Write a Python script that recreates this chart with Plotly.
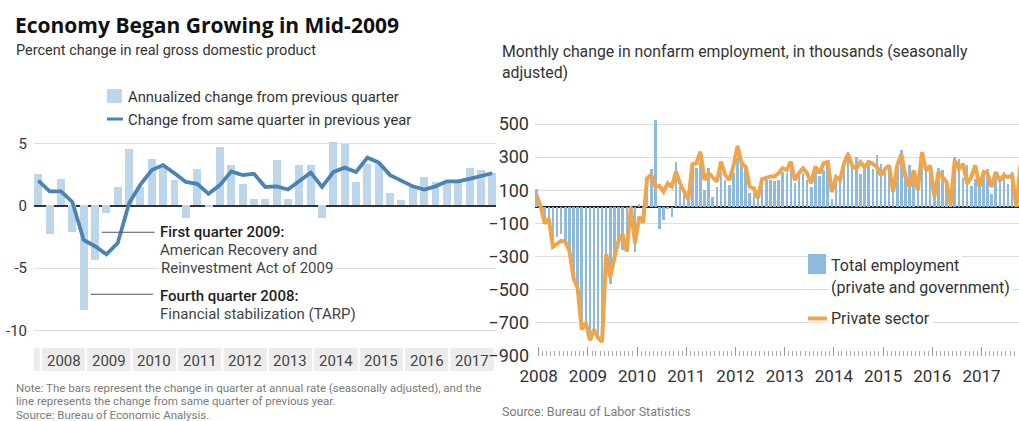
import pandas as pd
import plotly.graph_objects as go

W, H = 1019, 421


def px(x):
    return x / W


def py(y):
    return 1 - y / H


# ---------------- Real GDP, percent change (left panel) ----------------
gdp_years = ["2008", "2009", "2010", "2011", "2012", "2013", "2014", "2015", "2016", "2017"]
gdp_quarters = ["2007 Q4"] + [f"{y} Q{q}" for y in gdp_years for q in (1, 2, 3, 4)]

# annualized change from previous quarter
gdp_qoq = [
    2.5,
    -2.3, 2.1, -2.1, -8.4,
    -4.4, -0.6, 1.5, 4.5,
    1.5, 3.7, 3.0, 2.0,
    -1.0, 2.9, -0.1, 4.7,
    3.2, 1.7, 0.5, 0.5,
    3.6, 0.5, 3.2, 3.2,
    -1.0, 5.1, 4.9, 1.9,
    3.3, 3.3, 1.0, 0.4,
    1.5, 2.3, 1.9, 1.8,
    1.9, 3.0, 2.8, 2.6,
]
# change from same quarter in previous year
gdp_yoy = [
    2.0,
    1.15, 1.15, 0.3, -2.75,
    -3.25, -3.9, -3.0, 0.2,
    1.7, 2.85, 3.25, 2.6,
    1.9, 1.75, 0.95, 1.65,
    2.75, 2.45, 2.55, 1.5,
    1.55, 1.3, 1.95, 2.65,
    1.5, 2.7, 3.05, 2.7,
    3.85, 3.45, 2.45, 2.0,
    1.55, 1.3, 1.55, 1.95,
    1.95, 2.15, 2.35, 2.6,
]
gdp_yticks = [5, 0, -5, -10]
gdp_yticktext = ["5", "0", "-5", "-10"]

# ---------------- Nonfarm payrolls, monthly change (right panel) ----------------
emp_years = gdp_years
emp_months = pd.date_range("2007-12-01", "2017-10-01", freq="MS")

emp_total = [
    105,
    15, -85, -80, -210, -185, -165, -210, -265, -450, -480, -745, -705,      # 2008
    -790, -745, -800, -700, -330, -465, -325, -215, -260, -200, -10, -275,   # 2009
    15, -55, 160, 230, 525, -135, -80, -15, -60, 269, 122, 82,               # 2010
    42, 233, 233, 273, 102, 237, 62, 122, 213, 162, 132, 203,                # 2011
    293, 263, 243, 82, 82, 72, 162, 162, 162, 158, 162, 213,                 # 2012
    203, 263, 142, 193, 203, 162, 122, 233, 183, 223, 260, 50,               # 2013
    190, 150, 270, 330, 240, 300, 200, 230, 280, 230, 310, 260,              # 2014
    230, 240, 90, 260, 340, 210, 250, 160, 100, 320, 250, 240,               # 2015
    125, 235, 225, 155, 45, 300, 290, 175, 250, 125, 165, 155,               # 2016
    215, 230, 80, 205, 145, 210, 140, 210, 15, 270,                          # 2017
]
emp_private = [
    70,
    0, -100, -70, -240, -220, -205, -210, -265, -430, -490, -740, -700,      # 2008
    -805, -740, -790, -815, -285, -425, -305, -205, -165, -270, 0, -220,     # 2009
    -60, -95, 172, 193, 122, 126, 92, 142, 122, 213, 142, 92,                # 2010
    42, 257, 263, 333, 162, 203, 173, 152, 273, 193, 162, 243,               # 2011
    368, 263, 243, 122, 112, 52, 166, 173, 183, 183, 203, 233,               # 2012
    223, 273, 162, 203, 233, 203, 142, 243, 203, 263, 270, 90,               # 2013
    180, 160, 260, 320, 250, 230, 270, 240, 270, 260, 240, 190,              # 2014
    230, 250, 90, 250, 320, 180, 120, 220, 100, 330, 220, 250,               # 2015
    60, 210, 180, 150, 10, 280, 230, 260, 140, 180, 250, 120,                # 2016
    210, 200, 120, 210, 160, 190, 180, 190, 0, 250,                          # 2017
]
emp_yticks = [500, 300, 100, -100, -300, -500, -700, -900]

# ---------------- colours & fonts ----------------
BAR_GDP = "#bdd6ea"
LINE_GDP = "#4b84b4"
BAR_EMP = "#8dbadd"
LINE_EMP = "#efa54c"
GRID = "#dddddd"
FONT = "Roboto"
TITLE_FONT = "Open Sans"
TXT = "#333333"
NOTE = "#7a7a7a"

q_idx = list(range(len(gdp_quarters)))

fig = go.Figure()
fig.add_trace(go.Bar(x=q_idx, y=gdp_qoq, width=0.7, marker=dict(color=BAR_GDP, line_width=0),
                     hovertext=gdp_quarters, xaxis="x", yaxis="y",
                     name="Annualized change from previous quarter"))
fig.add_trace(go.Scatter(x=q_idx, y=gdp_yoy, mode="lines",
                         line=dict(color=LINE_GDP, width=3.8),
                         hovertext=gdp_quarters, xaxis="x", yaxis="y",
                         name="Change from same quarter in previous year"))
fig.add_trace(go.Bar(x=emp_months, y=emp_total, xperiod="M1", xperiodalignment="middle",
                     width=19 * 86400000, marker=dict(color=BAR_EMP, line_width=0),
                     xaxis="x2", yaxis="y2",
                     name="Total employment (private and government)"))
fig.add_trace(go.Scatter(x=emp_months, y=emp_private, xperiod="M1", xperiodalignment="middle",
                         mode="lines", line=dict(color=LINE_EMP, width=4),
                         xaxis="x2", yaxis="y2", name="Private sector"))

shapes = []
annotations = []


def text(x, y, s, size=15, color=TXT, weight=None, bg=None, family=FONT):
    f = dict(family=family, size=size, color=color)
    if weight:
        f["weight"] = weight
    a = dict(xref="paper", yref="paper", x=px(x), y=py(y), text=s, showarrow=False,
             xanchor="left", yanchor="middle", font=f, align="left")
    if bg:
        a.update(bgcolor=bg, borderpad=2)
    annotations.append(a)


# headings
text(13, 25, "Economy Began Growing in Mid-2009", size=21, color="#111111", weight=700,
     family=TITLE_FONT)
text(14, 51, "Percent change in real gross domestic product", size=14.5)
text(500, 52, "Monthly change in nonfarm employment, in thousands (seasonally", size=15.8)
text(500, 72, "adjusted)", size=15.8)

# left legend
shapes.append(dict(type="rect", xref="paper", yref="paper", x0=px(107), x1=px(122),
                   y0=py(103), y1=py(89), fillcolor=BAR_GDP, line_width=0))
text(126, 96.5, "Annualized change from previous quarter", size=14.8)
shapes.append(dict(type="line", xref="paper", yref="paper", x0=px(107), x1=px(123),
                   y0=py(119), y1=py(119), line=dict(color=LINE_GDP, width=3)))
text(126, 120, "Change from same quarter in previous year", size=14.8)

# year band under the GDP panel
band_shift = -0.28
cell_gap = 0.09
shapes.append(dict(type="rect", xref="x", yref="paper", layer="below",
                   x0=-0.5 + band_shift - 0.2, x1=0.5 + band_shift - cell_gap,
                   y0=py(371), y1=py(348), fillcolor="#ececec", line_width=0))
for k, yr in enumerate(gdp_years):
    x0 = 4 * k + 0.5 + band_shift
    shapes.append(dict(type="rect", xref="x", yref="paper", layer="below",
                       x0=x0 + cell_gap, x1=x0 + 4 - cell_gap,
                       y0=py(371), y1=py(348), fillcolor="#ececec", line_width=0))
    annotations.append(dict(xref="x", yref="paper", x=x0 + 2, y=py(361), text=yr,
                            showarrow=False, xanchor="center", yanchor="middle",
                            font=dict(family=FONT, size=15, color="#444444")))

# callouts on the GDP panel
shapes.append(dict(type="line", xref="x", yref="y", x0=5.6, x1=10.25, y0=-2.13, y1=-2.13,
                   line=dict(color="#555555", width=1)))
shapes.append(dict(type="line", xref="x", yref="y", x0=4.6, x1=10.1, y0=-7.1, y1=-7.1,
                   line=dict(color="#555555", width=1)))
text(158, 232, "First quarter 2009:", size=15, color="#1e1e1e", weight=500)
text(158, 250, "American Recovery and", size=15, color="#444444")
text(158, 268, "Reinvestment Act of 2009", size=15, color="#444444", bg="white")
text(158, 296, "Fourth quarter 2008:", size=15, color="#1e1e1e", weight=500)
text(158, 314, "Financial stabilization (TARP)", size=15, color="#444444")

# right legend
shapes.append(dict(type="rect", xref="paper", yref="paper", x0=px(808), x1=px(826),
                   y0=py(274), y1=py(254), fillcolor=BAR_EMP, line_width=0))
text(828, 265, "Total employment", size=16, bg="white")
text(828, 287, "(private and government)", size=16, bg="white")
shapes.append(dict(type="line", xref="paper", yref="paper", x0=px(808), x1=px(827),
                   y0=py(318.5), y1=py(318.5), line=dict(color=LINE_EMP, width=4)))
text(828, 318, "Private sector", size=16, bg="white")

# notes and sources
text(14, 388, "Note: The bars represent the change in quarter at annual rate (seasonally adjusted), and the",
     size=11.5, color=NOTE)
text(14, 401, "line represents the change from same quarter of previous year.", size=11.5, color=NOTE)
text(14, 415, "Source: Bureau of Economic Analysis.", size=11.5, color=NOTE)
text(500, 411, "Source: Bureau of Labor Statistics", size=12.5, color=NOTE)

year_starts = [f"{y}-01-01" for y in emp_years]

fig.update_layout(
    template="none",
    width=W, height=H,
    margin=dict(l=0, r=0, t=0, b=0, autoexpand=False),
    paper_bgcolor="white", plot_bgcolor="white",
    showlegend=False, bargap=0,
    font=dict(family=FONT, color=TXT),
    shapes=shapes, annotations=annotations,
    xaxis=dict(domain=[px(34), px(496)], range=[-0.38, 40.33], showgrid=False,
               zeroline=False, showticklabels=False, ticks="", showline=False,
               automargin=False),
    yaxis=dict(domain=[py(334.2), py(138.3)], range=[-10.3, 5.4],
               tickmode="array", tickvals=gdp_yticks, ticktext=gdp_yticktext,
               showgrid=True, gridcolor=GRID, gridwidth=1, zeroline=True,
               zerolinecolor="#333333", zerolinewidth=1.5, ticks="", showline=False,
               ticklabelstandoff=6, automargin=False,
               tickfont=dict(family=FONT, size=15, color=TXT)),
    xaxis2=dict(type="date", anchor="y2", domain=[px(535), 1.0],
                range=["2007-12-05", "2017-10-06"], showgrid=False, zeroline=False,
                showline=False, automargin=False,
                tickmode="array", tickvals=year_starts, ticktext=emp_years,
                ticks="inside", ticklen=9, tickcolor="#999999", tickwidth=1,
                minor=dict(tickmode="linear", tick0="2008-01-01", dtick="M1",
                           ticks="inside", ticklen=5, tickcolor="#aaaaaa", showgrid=False),
                ticklabelstandoff=8,
                tickfont=dict(family=FONT, size=17, color=TXT)),
    yaxis2=dict(anchor="x2", domain=[py(356), py(114.06)], range=[-900, 560],
                tickmode="array", tickvals=emp_yticks,
                showgrid=True, gridcolor=GRID, gridwidth=1, zeroline=True,
                zerolinecolor="#222222", zerolinewidth=2, ticks="", showline=False,
                ticklabelstandoff=5, automargin=False,
                tickfont=dict(family=FONT, size=18, color=TXT)),
)

fig.write_html("out.html")
